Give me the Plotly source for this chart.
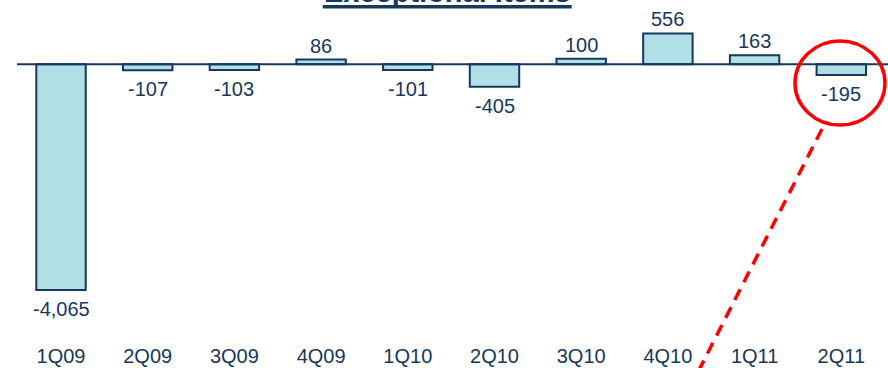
import plotly.graph_objects as go

quarters = ["1Q09", "2Q09", "3Q09", "4Q09", "1Q10", "2Q10", "3Q10", "4Q10", "1Q11", "2Q11"]
values = [-4065, -107, -103, 86, -101, -405, 100, 556, 163, -195]
labels = [f"{v:,}" for v in values]
title_text = "Exceptional Items"

NAVY = "#17375E"
FILL = "#B0DFE5"
RED = "#FF0000"
FONT = "Liberation Sans, Arial, sans-serif"

W, H = 888, 368
B = 28
PH = H - B  # plot height in px

fig = go.Figure(go.Bar(
    x=quarters, y=values, width=0.57,
    marker=dict(color=FILL, line=dict(color=NAVY, width=2)),
))

def px(x):
    return x / W

def py(y):
    return 1 - y / PH

shapes = [
    # zero line
    dict(type="line", xref="paper", yref="y", x0=px(17), x1=1.0, y0=0, y1=0,
         line=dict(color=NAVY, width=2), layer="above"),
    # title underline
    dict(type="line", xref="paper", yref="paper", x0=px(322.7), x1=px(571.7),
         y0=py(6.7), y1=py(6.7), line=dict(color=NAVY, width=3.4)),
    # red circle
    dict(type="circle", xref="paper", yref="paper", x0=px(795), x1=px(885),
         y0=py(125), y1=py(41), line=dict(color=RED, width=3.5)),
    # red dashed line
    dict(type="line", xref="paper", yref="paper", x0=px(822), x1=px(698),
         y0=py(129), y1=py(372), line=dict(color=RED, width=3.5, dash="12px,8px")),
]

annotations = [dict(text="<b>" + title_text + "</b>", xref="paper", yref="paper",
                    x=px(447), y=py(10), xanchor="center", yanchor="bottom",
                    showarrow=False, font=dict(family=FONT, size=29, color=NAVY))]

for q, v, lab in zip(quarters, values, labels):
    annotations.append(dict(
        text=lab, x=q, y=v, xref="x", yref="y", showarrow=False,
        xanchor="center", yanchor="bottom" if v >= 0 else "top",
        yshift=1 if v >= 0 else -6,
        font=dict(family=FONT, size=20, color=NAVY)))

fig.update_layout(
    width=W, height=H,
    margin=dict(l=0, r=0, t=0, b=B),
    paper_bgcolor="white", plot_bgcolor="white",
    showlegend=False,
    bargap=0.43,
    xaxis=dict(range=[-61 / 86.7, (W - 61) / 86.7], showgrid=False, zeroline=False,
               showline=False, ticks="", ticklabelstandoff=2,
               tickfont=dict(family=FONT, size=20, color=NAVY)),
    yaxis=dict(range=[-(PH - 64.3) / 0.0555, 64.3 / 0.0555], visible=False,
               showgrid=False, zeroline=False),
    shapes=shapes,
    annotations=annotations,
)

fig.write_html("out.html")
